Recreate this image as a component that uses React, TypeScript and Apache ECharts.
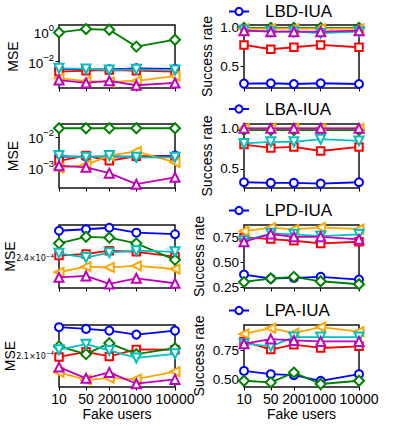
import { useEffect, useRef } from 'react';
import * as echarts from 'echarts';

const fakeUsers = [10, 50, 200, 1000, 10000];
const methodNames = ['LBD-IUA', 'LBA-IUA', 'LPD-IUA', 'LPA-IUA'];
const otherSeriesTags = ['red', 'green', 'orange', 'cyan', 'magenta'];

// each panel: [blue, red, green, orange, cyan, magenta]
const lbdMse = [
  [3.2e-3, 3.0e-3, 3.0e-3, 3.5e-3, 3.2e-3],
  [2.1e-3, 2.45e-3, 2.7e-3, 2.45e-3, 2.1e-3],
  [0.89, 1.5, 1.35, 0.1, 0.29],
  [7.8e-4, 4.9e-4, 4.4e-4, 5.1e-4, 1.07e-3],
  [3.5e-3, 3.2e-3, 2.7e-3, 3.0e-3, 2.7e-3],
  [5.8e-4, 3.7e-4, 5.1e-4, 2.6e-4, 3.7e-4],
];
const lbdSuccess = [
  [0.27, 0.275, 0.265, 0.275, 0.265],
  [0.776, 0.72, 0.746, 0.776, 0.746],
  [1, 1, 1, 1, 1],
  [0.99, 0.99, 0.99, 0.99, 0.99],
  [0.97, 0.95, 0.95, 0.93, 0.95],
  [0.963, 0.95, 0.95, 0.95, 0.963],
];
const lbaMse = [
  [2.3e-3, 2.3e-3, 2.3e-3, 2.3e-3, 2.5e-3],
  [1.7e-3, 2.5e-3, 1.7e-3, 2.4e-3, 2.3e-3],
  [0.019, 0.019, 0.019, 0.019, 0.019],
  [9.8e-4, 1.25e-3, 2.5e-3, 3.4e-3, 1.5e-3],
  [2.5e-3, 2.2e-3, 2.5e-3, 2.2e-3, 2.2e-3],
  [1.18e-3, 1.05e-3, 6.8e-4, 3.0e-4, 5.0e-4],
];
const lbaSuccess = [
  [0.333, 0.325, 0.325, 0.316, 0.333],
  [0.8, 0.758, 0.77, 0.72, 0.77],
  [0.98, 0.98, 0.98, 0.98, 0.98],
  [1, 1, 1, 1, 1],
  [0.813, 0.833, 0.833, 0.866, 0.845],
  [1, 1, 1, 1, 1],
];
const lpdMse = [
  [2.523e-4, 2.53e-4, 2.537e-4, 2.514e-4, 2.507e-4],
  [2.41e-4, 2.417e-4, 2.432e-4, 2.427e-4, 2.405e-4],
  [2.465e-4, 2.495e-4, 2.491e-4, 2.465e-4, 2.391e-4],
  [2.337e-4, 2.361e-4, 2.358e-4, 2.365e-4, 2.351e-4],
  [2.42e-4, 2.401e-4, 2.423e-4, 2.432e-4, 2.427e-4],
  [2.315e-4, 2.321e-4, 2.287e-4, 2.311e-4, 2.29e-4],
];
const lpdSuccess = [
  [0.376, 0.336, 0.342, 0.352, 0.325],
  [0.751, 0.734, 0.717, 0.69, 0.707],
  [0.301, 0.336, 0.352, 0.308, 0.278],
  [0.815, 0.849, 0.832, 0.853, 0.835],
  [0.717, 0.792, 0.782, 0.764, 0.782],
  [0.707, 0.785, 0.757, 0.757, 0.731],
];
const lpaMse = [
  [2.211e-4, 2.204e-4, 2.197e-4, 2.181e-4, 2.197e-4],
  [2.093e-4, 2.113e-4, 2.095e-4, 2.122e-4, 2.121e-4],
  [2.134e-4, 2.104e-4, 2.147e-4, 2.104e-4, 2.127e-4],
  [2.034e-4, 2.006e-4, 2.013e-4, 2.009e-4, 2.037e-4],
  [2.121e-4, 2.143e-4, 2.118e-4, 2.089e-4, 2.105e-4],
  [2.054e-4, 2.012e-4, 2.034e-4, 1.992e-4, 2.008e-4],
];
const lpaSuccess = [
  [0.571, 0.543, 0.534, 0.486, 0.543],
  [0.827, 0.756, 0.799, 0.77, 0.784],
  [0.486, 0.472, 0.557, 0.458, 0.486],
  [0.892, 0.941, 0.898, 0.95, 0.912],
  [0.807, 0.784, 0.864, 0.864, 0.864],
  [0.807, 0.847, 0.835, 0.827, 0.827],
];

const mseRanges = [[1.7e-4, 2.8], [2.26e-4, 0.026], [2.27e-4, 2.55e-4], [1.98e-4, 2.22e-4]];
const mseTicks = [[1e-2, 1], [1e-3, 1e-2], [2.4e-4], [2.1e-4]];
const successRanges = [[0.2125, 1.0375], [0.262, 1.054], [0.24, 0.876], [0.432, 0.969]];
const successTicks = [[0.5, 1.0], [0.5, 1.0], [0.25, 0.5, 0.75], [0.5, 0.75]];

const msePanels = [lbdMse, lbaMse, lpdMse, lpaMse];
const successPanels = [lbdSuccess, lbaSuccess, lpdSuccess, lpaSuccess];

// styling
const COLORS = ['#0000ff', '#ff0000', '#008000', '#ffa500', '#00bfbf', '#bf00bf'];
const SYMBOLS = ['emptyCircle', 'emptyRect', 'emptyDiamond', 'emptyTriangle', 'emptyTriangle', 'emptyTriangle'];
const ROTATES = [0, 0, 0, 90, 180, 0];
const SIZES = [8, 7.5, 10, 9, 9, 9];
const FONT = 'Liberation Sans, Arial, sans-serif';
const ROW_TOPS = [25, 124, 225, 325];
const ROW_HEIGHTS = [63, 64, 63, 62];
const LEGEND_CENTERS = [12, 109.5, 211, 311];
const MSE_NAME_GAPS = [39, 39, 42, 42];

function mseLabel(v: number): string {
  const e = Math.floor(Math.log10(v) + 1e-9);
  const m = v / Math.pow(10, e);
  const exp = (e < 0 ? '−' : '') + Math.abs(e);
  if (Math.abs(m - 1) < 1e-6) return `{b|10}{s|${exp}}`;
  return `{mb|${m.toFixed(1)}×10}{ms|${exp}}`;
}

export default function App() {
  const ref = useRef<HTMLDivElement>(null);
  useEffect(() => {
    if (!ref.current) return;
    const chart = echarts.init(ref.current, undefined, { renderer: 'svg' });
    const grids: any[] = [];
    const xAxes: any[] = [];
    const yAxes: any[] = [];
    const series: any[] = [];
    const legends: any[] = [];
    for (let r = 0; r < 4; r++) {
      const bottomRow = r === 3;
      for (let c = 0; c < 2; c++) {
        const gi = r * 2 + c;
        grids.push({
          left: c === 0 ? 59 : 244,
          width: c === 0 ? 116 : 115,
          top: ROW_TOPS[r],
          height: ROW_HEIGHTS[r],
          show: true,
          borderColor: '#111',
          borderWidth: 1.5,
          backgroundColor: 'transparent',
          outerBoundsMode: 'none',
          containLabel: false,
        });
        xAxes.push({
          type: 'log',
          logBase: 10,
          gridIndex: gi,
          min: 10,
          max: 10000,
          axisLine: { show: false },
          splitLine: { show: false },
          minorTick: { show: false },
          axisTick: { show: true, inside: false, length: 3.5, customValues: fakeUsers, lineStyle: { color: '#000', width: 1 } },
          axisLabel: {
            show: bottomRow,
            customValues: fakeUsers,
            margin: 5,
            fontSize: 14,
            fontFamily: FONT,
            color: '#000',
            formatter: (v: number) => String(Math.round(v)),
          },
          name: bottomRow ? 'Fake users' : '',
          nameLocation: 'middle',
          nameGap: 20,
          nameMoveOverlap: false,
          nameTextStyle: { fontSize: 14, fontFamily: FONT, color: '#000' },
        });
        if (c === 0) {
          const [mn, mx] = mseRanges[r];
          yAxes.push({
            type: 'log',
            logBase: 10,
            gridIndex: gi,
            min: mn,
            max: mx,
            axisLine: { show: false },
            splitLine: { show: false },
            minorTick: { show: false },
            axisTick: { show: true, inside: false, length: 3.5, customValues: mseTicks[r], lineStyle: { color: '#000', width: 1 } },
            axisLabel: {
              customValues: mseTicks[r],
              margin: 5,
              color: '#000',
              formatter: (v: number) => mseLabel(v),
              rich: {
                b: { fontSize: 13.5, fontFamily: FONT, color: '#000', padding: [4, 0, 0, 0] },
                s: { fontSize: 9.5, fontFamily: FONT, color: '#000', verticalAlign: 'top' },
                mb: { fontSize: 8, fontFamily: 'DejaVu Sans', color: '#000', padding: [2, 0, 0, 0] },
                ms: { fontSize: 5.6, fontFamily: 'DejaVu Sans', color: '#000', verticalAlign: 'top' },
              },
            },
            name: 'MSE',
            nameLocation: 'middle',
            nameGap: MSE_NAME_GAPS[r],
            nameMoveOverlap: false,
            nameTextStyle: { fontSize: 14, fontFamily: FONT, color: '#000' },
          });
        } else {
          const [mn, mx] = successRanges[r];
          const dec = r < 2 ? 1 : 2;
          yAxes.push({
            type: 'value',
            gridIndex: gi,
            min: mn,
            max: mx,
            axisLine: { show: false },
            splitLine: { show: false },
            axisTick: { show: true, inside: false, length: 3.5, customValues: successTicks[r], lineStyle: { color: '#000', width: 1 } },
            axisLabel: {
              customValues: successTicks[r],
              margin: 5,
              fontSize: 13.5,
              fontFamily: FONT,
              color: '#000',
              formatter: (v: number) => v.toFixed(dec),
            },
            name: 'Success rate',
            nameLocation: 'middle',
            nameGap: r < 2 ? 30 : 38,
            nameMoveOverlap: false,
            nameTextStyle: { fontSize: 14, fontFamily: FONT, color: '#000' },
          });
          legends.push({
            top: LEGEND_CENTERS[r] - 9,
            left: 228,
            padding: 0,
            itemWidth: 20,
            itemHeight: 9,
            data: [methodNames[r]],
            selectedMode: false,
            textStyle: { fontSize: 17, fontFamily: FONT, color: '#000', padding: [0, 0, 0, 11] },
          });
        }
        const panel = c === 0 ? msePanels[r] : successPanels[r];
        panel.forEach((vals, si) => {
          series.push({
            type: 'line',
            name: si === 0 ? methodNames[r] : `${methodNames[r]} ${otherSeriesTags[si - 1]}`,
            xAxisIndex: gi,
            yAxisIndex: gi,
            data: fakeUsers.map((u, k) => [u, vals[k]]),
            symbol: SYMBOLS[si],
            symbolRotate: ROTATES[si],
            symbolSize: SIZES[si],
            showSymbol: true,
            lineStyle: { color: COLORS[si], width: 1.8 },
            itemStyle: { color: COLORS[si], borderColor: COLORS[si], borderWidth: 1.5 },
            emphasis: { disabled: true },
            z: 2 + si,
          });
        });
      }
    }
    chart.setOption({
      animation: false,
      backgroundColor: '#fff',
      grid: grids,
      xAxis: xAxes,
      yAxis: yAxes,
      legend: legends,
      series,
    });
    return () => chart.dispose();
  }, []);
  return <div ref={ref} style={{ position: 'absolute', left: 0, top: 0, width: 399, height: 426 }} />;
}
